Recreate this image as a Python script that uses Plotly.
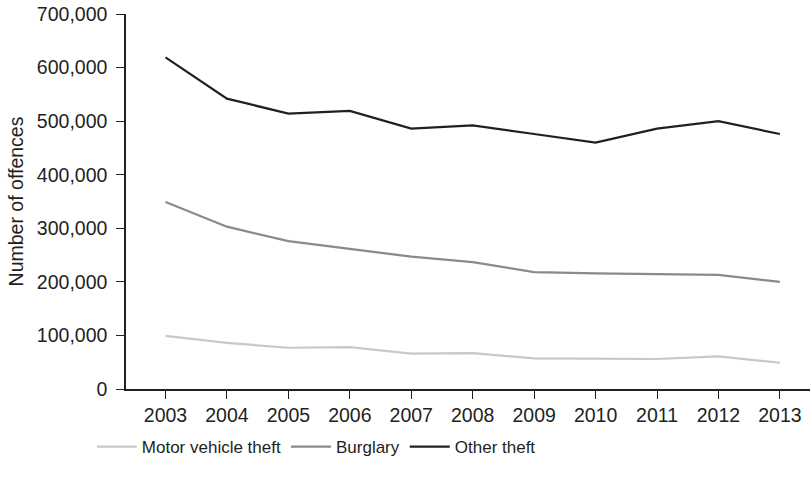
import plotly.graph_objects as go

# Values
years = [2003, 2004, 2005, 2006, 2007, 2008, 2009, 2010, 2011, 2012, 2013]
motor_vehicle_theft = [99000, 86000, 77000, 78000, 66000, 67000, 57000, 56000, 56000, 61000, 49000]
burglary = [349000, 303000, 276000, 261000, 247000, 237000, 218000, 216000, 215000, 213000, 200000]
other_theft = [619000, 542000, 514000, 519000, 486000, 492000, 476000, 460000, 486000, 500000, 476000]

series = [
    ("Motor vehicle theft", motor_vehicle_theft, "#c8c8c8"),
    ("Burglary", burglary, "#8a8a8c"),
    ("Other theft", other_theft, "#231f20"),
]

ink = "#231f20"

fig = go.Figure()
for name, values, color in series:
    fig.add_trace(
        go.Scatter(
            x=years,
            y=values,
            name=name,
            mode="lines",
            line=dict(color=color, width=2.2),
        )
    )

fig.update_layout(
    width=810,
    height=477,
    paper_bgcolor="white",
    plot_bgcolor="white",
    font=dict(family="Liberation Sans, Arial, sans-serif", color=ink, size=17),
    margin=dict(l=126, r=0, t=14, b=88, autoexpand=False),
    showlegend=True,
    legend=dict(
        orientation="h",
        x=-0.05,
        xanchor="left",
        y=-0.107,
        yanchor="top",
        font=dict(size=17),
        itemwidth=40,
        traceorder="normal",
    ),
    xaxis=dict(
        automargin=False,
        range=[2002.357, 2013.49],
        tickmode="array",
        tickvals=years,
        ticktext=[str(y) for y in years],
        showgrid=False,
        zeroline=False,
        showline=True,
        linecolor=ink,
        linewidth=1.5,
        ticks="outside",
        ticklen=8,
        tickcolor=ink,
        tickwidth=1.2,
        tickfont=dict(size=19.5),
    ),
    yaxis=dict(
        automargin=False,
        range=[0, 700000],
        tickvals=[0, 100000, 200000, 300000, 400000, 500000, 600000, 700000],
        tickformat=",d",
        showgrid=False,
        zeroline=False,
        showline=True,
        linecolor=ink,
        linewidth=1.5,
        ticks="outside",
        ticklen=8,
        tickcolor=ink,
        tickwidth=1.2,
        ticklabelstandoff=5,
        tickfont=dict(size=19.5),
        title=dict(text="Number of offences", font=dict(size=19.5), standoff=8),
    ),
)

# drop the browser's default 8px body margin so the figure fills the window
fig.write_html(
    "out.html",
    config={"displayModeBar": False},
    post_script="document.body.style.margin = '0';",
)
